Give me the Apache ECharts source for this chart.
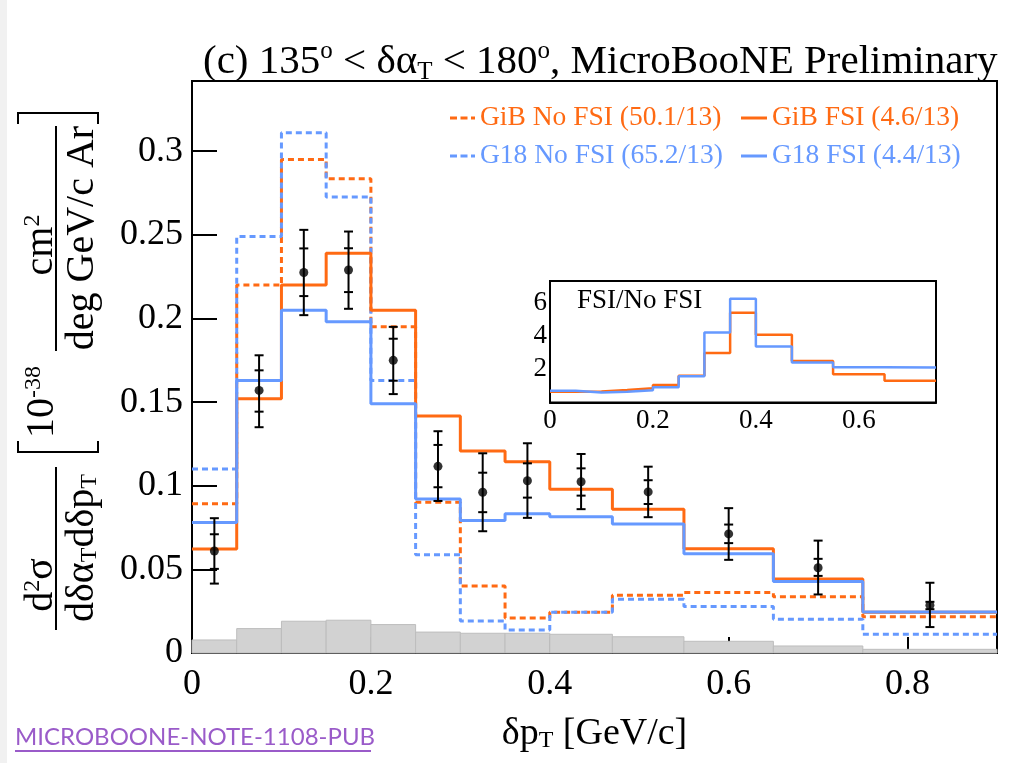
<!DOCTYPE html>
<html><head><meta charset="utf-8">
<script src="https://cdn.jsdelivr.net/npm/echarts@6/dist/echarts.min.js"></script>
<style>html,body{margin:0;padding:0;background:#fff}#c{width:1017px;height:763px}</style>
</head><body><div id="c"></div>
<script>
// ---- data ----
const binEdges = [0, 0.05, 0.1, 0.15, 0.2, 0.25, 0.3, 0.35, 0.4, 0.47, 0.55, 0.65, 0.75, 0.9];
const dataX     = [0.025, 0.075, 0.125, 0.175, 0.225, 0.275, 0.325, 0.375, 0.435, 0.51, 0.6, 0.7, 0.825];
const dataY     = [0.061, 0.157, 0.2275, 0.229, 0.175, 0.1116, 0.0961, 0.103, 0.1024, 0.0963, 0.0712, 0.051, 0.0286];
const totHi     = [0.0806, 0.178, 0.253, 0.252, 0.195, 0.1326, 0.1194, 0.1254, 0.119, 0.1114, 0.0866, 0.0672, 0.042];
const totLo     = [0.0415, 0.135, 0.202, 0.2058, 0.1548, 0.0909, 0.0728, 0.0808, 0.086, 0.0812, 0.0557, 0.035, 0.0155];
const statHi    = [0.071, 0.169, 0.2419, 0.242, 0.1879, 0.1244, 0.1078, 0.1134, 0.1104, 0.1033, 0.0768, 0.0563, 0.0306];
const statLo    = [0.0503, 0.1443, 0.2134, 0.2158, 0.1628, 0.0991, 0.0842, 0.0929, 0.0941, 0.0891, 0.0657, 0.0461, 0.0262];
const gibNoFsi  = [0.0893, 0.22, 0.295, 0.2835, 0.195, 0.0901, 0.0401, 0.021, 0.0243, 0.0346, 0.0362, 0.0336, 0.0216];
const gibFsi    = [0.0622, 0.152, 0.22, 0.239, 0.205, 0.1417, 0.1208, 0.1144, 0.0979, 0.086, 0.0624, 0.0443, 0.0244];
const g18NoFsi  = [0.110, 0.249, 0.311, 0.2727, 0.163, 0.0588, 0.0192, 0.0138, 0.0243, 0.0322, 0.0278, 0.0202, 0.0112];
const g18Fsi    = [0.078, 0.163, 0.205, 0.198, 0.149, 0.0921, 0.0792, 0.0832, 0.0814, 0.0771, 0.0593, 0.0427, 0.0245];
const bkg       = [0.0078, 0.0146, 0.019, 0.0196, 0.017, 0.0125, 0.0118, 0.0118, 0.0112, 0.0097, 0.007, 0.0042, 0.0022];
const ratioEdges = [0, 0.05, 0.1, 0.15, 0.2, 0.25, 0.3, 0.35, 0.4, 0.47, 0.55, 0.65, 0.75];
const gibRatio  = [0.65, 0.66, 0.75, 0.85, 1.05, 1.6, 2.98, 5.39, 4.07, 2.5, 1.7, 1.3];
const g18Ratio  = [0.7, 0.6, 0.65, 0.73, 0.92, 1.57, 4.2, 6.23, 3.36, 2.4, 2.12, 2.1];
const legendNames = ['GiB No FSI (50.1/13)', 'GiB FSI (4.6/13)', 'G18 No FSI (65.2/13)', 'G18 FSI (4.4/13)'];

// ---- style ----
const ORANGE = '#ff6a13', BLUE = '#6699ff';
const SERIF = 'Liberation Serif';
const DASH_ICON = 'path://M0,0h7v3h-7zM10.5,0h7v3h-7zM21,0h4v3h-4z';
const SOLID_ICON = 'path://M0,0h26v3h-26z';

function steps(vals, edges) {
  const pts = [];
  vals.forEach((v, i) => { pts.push([edges[i], v]); pts.push([edges[i + 1], v]); });
  return pts;
}
function onGrid(v, step) {
  const k = Math.round(v / step);
  return Math.abs(v - k * step) < 1e-9;
}
function fmt(v, step) {
  if (!onGrid(v, step)) return '';
  return String(+(Math.round(v / step) * step).toFixed(3));
}

const chart = echarts.init(document.getElementById('c'), null, { renderer: 'canvas' });

const histLine = (name, vals, color, dashed, z) => ({
  name, type: 'line', data: steps(vals, binEdges), xAxisIndex: 0, yAxisIndex: 0,
  symbol: 'none', showSymbol: false, z,
  lineStyle: { color, width: 3, type: dashed ? [6, 4] : 'solid' },
  itemStyle: { color }
});

const legendBase = (name, color, left, top, dashed) => ({
  data: [{ name, icon: dashed ? DASH_ICON : SOLID_ICON, textStyle: { color } }],
  left, top, padding: 0, itemWidth: dashed ? 25 : 26, itemHeight: 3,
  itemStyle: { color, borderWidth: 0 },
  textStyle: { fontFamily: SERIF, fontSize: 27.5, color, lineHeight: 30 }
});

const option = {
  animation: false,
  backgroundColor: '#fff',
  title: [
    {
      text: '(c) 135{sup|o} < δα{sub|T} < 180{sup|o}, MicroBooNE Preliminary',
      left: 198, top: 34,
      textStyle: {
        fontFamily: SERIF, fontSize: 41, color: '#000', fontWeight: 'normal', lineHeight: 46,
        rich: {
          sup: { fontFamily: SERIF, fontSize: 25, lineHeight: 24, verticalAlign: 'top', color: '#000' },
          sub: { fontFamily: SERIF, fontSize: 25, lineHeight: 22, verticalAlign: 'bottom', color: '#000' }
        }
      }
    },
    {
      text: 'FSI/No FSI', left: 572, top: 282,
      textStyle: { fontFamily: SERIF, fontSize: 27, color: '#000', fontWeight: 'normal' }
    }
  ],
  legend: [
    legendBase(legendNames[0], ORANGE, 450, 103, true),
    legendBase(legendNames[1], ORANGE, 741, 103, false),
    legendBase(legendNames[2], BLUE, 450, 141, true),
    legendBase(legendNames[3], BLUE, 741, 141, false)
  ],
  grid: [
    { left: 192, right: 20, top: 81, bottom: 110, show: true, borderColor: '#000', borderWidth: 2, backgroundColor: 'transparent' },
    { left: 550, top: 281, width: 386, height: 121.5, show: true, borderColor: '#000', borderWidth: 2, backgroundColor: '#fff', z: 3 }
  ],
  xAxis: [
    {
      type: 'value', gridIndex: 0, min: 0, max: 0.9, interval: 0.2,
      axisLine: { lineStyle: { color: '#000', width: 2 } },
      axisTick: { inside: true, length: 16, lineStyle: { color: '#000', width: 2 } },
      splitLine: { show: false },
      axisLabel: { fontFamily: SERIF, fontSize: 36, color: '#000', margin: 14, showMaxLabel: false,
        formatter: v => fmt(v, 0.2) },
      name: 'δp{sub|T} [GeV/c]', nameLocation: 'middle', nameGap: 62,
      nameTextStyle: { fontFamily: SERIF, fontSize: 38, color: '#000',
        rich: { sub: { fontFamily: SERIF, fontSize: 24, verticalAlign: 'bottom', lineHeight: 20, color: '#000' } } }
    },
    {
      type: 'value', gridIndex: 1, min: 0, max: 0.75, interval: 0.2,
      axisLine: { lineStyle: { color: '#000', width: 2 } },
      axisTick: { inside: true, length: 8, lineStyle: { color: '#000', width: 1.5 } },
      splitLine: { show: false },
      axisLabel: { fontFamily: SERIF, fontSize: 27, color: '#000', margin: 5, showMaxLabel: false,
        formatter: v => fmt(v, 0.2) }
    }
  ],
  yAxis: [
    {
      type: 'value', gridIndex: 0, min: 0, max: 0.342, interval: 0.05,
      axisLine: { lineStyle: { color: '#000', width: 2 } },
      axisTick: { inside: true, length: 25, lineStyle: { color: '#000', width: 2 } },
      splitLine: { show: false },
      axisLabel: { fontFamily: SERIF, fontSize: 36, color: '#000', margin: 9, showMaxLabel: false,
        formatter: v => fmt(v, 0.05) }
    },
    {
      type: 'value', gridIndex: 1, min: 0, max: 7.3, interval: 2,
      axisLine: { lineStyle: { color: '#000', width: 2 } },
      axisTick: { inside: true, length: 11, lineStyle: { color: '#000', width: 1.5 } },
      splitLine: { show: false },
      axisLabel: { fontFamily: SERIF, fontSize: 27, color: '#000', margin: 3, showMaxLabel: false,
        formatter: v => (v === 0 ? '' : fmt(v, 2)) }
    }
  ],
  series: [
    {
      name: 'background', type: 'custom', xAxisIndex: 0, yAxisIndex: 0, z: 1,
      data: bkg.map((v, i) => [binEdges[i], binEdges[i + 1], v]),
      encode: { x: [0, 1], y: 2 },
      renderItem: (params, api) => {
        const p1 = api.coord([api.value(0), api.value(2)]);
        const p2 = api.coord([api.value(1), 0]);
        return { type: 'rect', shape: { x: p1[0], y: p1[1], width: p2[0] - p1[0], height: p2[1] - p1[1] },
          style: { fill: '#d2d2d2', stroke: '#bdbdbd', lineWidth: 1 } };
      }
    },
    histLine(legendNames[0], gibNoFsi, ORANGE, true, 2),
    histLine(legendNames[2], g18NoFsi, BLUE, true, 3),
    histLine(legendNames[1], gibFsi, ORANGE, false, 4),
    histLine(legendNames[3], g18Fsi, BLUE, false, 5),
    {
      name: 'errors', type: 'custom', xAxisIndex: 0, yAxisIndex: 0, z: 8,
      data: dataX.map((x, i) => [x, dataY[i], totLo[i], totHi[i], statLo[i], statHi[i]]),
      encode: { x: 0, y: [1, 2, 3] },
      renderItem: (params, api) => {
        const x = api.value(0);
        const a = api.coord([x, api.value(2)]), b = api.coord([x, api.value(3)]);
        const c = api.coord([x, api.value(4)]), d = api.coord([x, api.value(5)]);
        const w = 4.5, st = { stroke: '#000', lineWidth: 2 };
        const cap = p => ({ type: 'line', shape: { x1: p[0] - w, y1: p[1], x2: p[0] + w, y2: p[1] }, style: st });
        return { type: 'group', children: [
          { type: 'line', shape: { x1: a[0], y1: a[1], x2: b[0], y2: b[1] }, style: st },
          cap(a), cap(b), cap(c), cap(d)
        ] };
      }
    },
    {
      name: 'Data', type: 'scatter', xAxisIndex: 0, yAxisIndex: 0, z: 9,
      data: dataX.map((x, i) => [x, dataY[i]]), symbol: 'circle', symbolSize: 9,
      itemStyle: { color: '#000' }
    },
    {
      name: 'GiB ratio', type: 'line', xAxisIndex: 1, yAxisIndex: 1, z: 6,
      data: steps(gibRatio, ratioEdges), symbol: 'none', showSymbol: false,
      lineStyle: { color: ORANGE, width: 2.5 }
    },
    {
      name: 'G18 ratio', type: 'line', xAxisIndex: 1, yAxisIndex: 1, z: 7,
      data: steps(g18Ratio, ratioEdges), symbol: 'none', showSymbol: false,
      lineStyle: { color: BLUE, width: 2.5 }
    }
  ],
  graphic: [
    { type: 'rect', shape: { x: 0, y: 0, width: 7, height: 763 }, style: { fill: '#f1f1f1' }, z: -1 },
    // rotated y-axis title
    { type: 'text', x: 41, y: 585, rotation: Math.PI / 2,
      style: { text: 'd{sup|2}σ', fontFamily: SERIF, fontSize: 40, fill: '#000', align: 'center', verticalAlign: 'middle',
        rich: { sup: { fontFamily: SERIF, fontSize: 24, verticalAlign: 'top', lineHeight: 24 } } } },
    { type: 'line', shape: { x1: 56, y1: 467, x2: 56, y2: 630 }, style: { stroke: '#000', lineWidth: 2 } },
    { type: 'text', x: 82, y: 548, rotation: Math.PI / 2,
      style: { text: 'dδα{sub|T}dδp{sub|T}', fontFamily: SERIF, fontSize: 40, fill: '#000', align: 'center', verticalAlign: 'middle',
        rich: { sub: { fontFamily: SERIF, fontSize: 24, verticalAlign: 'bottom', lineHeight: 22 } } } },
    { type: 'polyline', shape: { points: [[18, 441], [18, 452], [98, 452], [98, 441]] }, style: { stroke: '#000', lineWidth: 2, fill: null } },
    { type: 'text', x: 42, y: 402, rotation: Math.PI / 2,
      style: { text: '10{sup|-38}', fontFamily: SERIF, fontSize: 40, fill: '#000', align: 'center', verticalAlign: 'middle',
        rich: { sup: { fontFamily: SERIF, fontSize: 24, verticalAlign: 'top', lineHeight: 24 } } } },
    { type: 'text', x: 41, y: 245, rotation: Math.PI / 2,
      style: { text: 'cm{sup|2}', fontFamily: SERIF, fontSize: 40, fill: '#000', align: 'center', verticalAlign: 'middle',
        rich: { sup: { fontFamily: SERIF, fontSize: 24, verticalAlign: 'top', lineHeight: 24 } } } },
    { type: 'line', shape: { x1: 56, y1: 126, x2: 56, y2: 351 }, style: { stroke: '#000', lineWidth: 2 } },
    { type: 'text', x: 82, y: 238, rotation: Math.PI / 2,
      style: { text: 'deg GeV/c Ar', fontFamily: SERIF, fontSize: 40, fill: '#000', align: 'center', verticalAlign: 'middle' } },
    { type: 'polyline', shape: { points: [[18, 124], [18, 113], [98, 113], [98, 124]] }, style: { stroke: '#000', lineWidth: 2, fill: null } },
    // footer
    { type: 'text', x: 15, y: 737, style: { text: 'MICROBOONE-NOTE-1108-PUB', fontFamily: 'Lato', fontSize: 24, fill: '#9a5bc9', align: 'left', verticalAlign: 'middle' } },
    { type: 'line', shape: { x1: 15, y1: 751, x2: 371, y2: 751 }, style: { stroke: '#9a5bc9', lineWidth: 2 } }
  ]
};
chart.setOption(option);
</script>
</body></html>
